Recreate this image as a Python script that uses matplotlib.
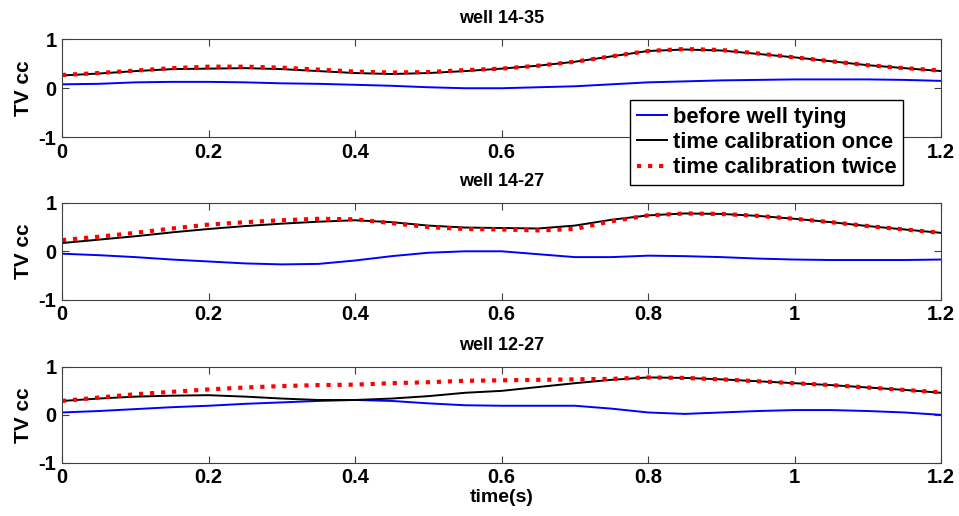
import matplotlib
matplotlib.use("Agg")
import matplotlib.pyplot as plt
import numpy as np

plt.rcParams['font.family'] = ['Liberation Sans', 'DejaVu Sans']
plt.rcParams['font.weight'] = 'bold'
plt.rcParams['axes.unicode_minus'] = False

# time axis (s)
t = [0.00, 0.05, 0.10, 0.15, 0.20, 0.25, 0.30, 0.35, 0.40, 0.45, 0.50, 0.55,
     0.60, 0.65, 0.70, 0.75, 0.80, 0.85, 0.90, 0.95, 1.00, 1.05, 1.10, 1.15, 1.20]
tick_labels = ['0', '0.2', '0.4', '0.6', '0.8', '1', '1.2']

wells = ["well 14-35", "well 14-27", "well 12-27"]

# well 14-35
before_1435 = [0.08, 0.09, 0.12, 0.13, 0.13, 0.12, 0.10, 0.09, 0.07, 0.05, 0.02, 0.00,
               0.00, 0.02, 0.04, 0.08, 0.12, 0.14, 0.16, 0.17, 0.18, 0.18, 0.18, 0.17, 0.15]
once_1435 = [0.26, 0.30, 0.35, 0.39, 0.40, 0.41, 0.39, 0.35, 0.31, 0.29, 0.31, 0.35,
             0.40, 0.46, 0.54, 0.65, 0.76, 0.79, 0.77, 0.70, 0.63, 0.55, 0.47, 0.41, 0.35]
twice_1435 = [0.27, 0.31, 0.36, 0.41, 0.44, 0.44, 0.42, 0.38, 0.34, 0.32, 0.33, 0.37,
              0.40, 0.46, 0.54, 0.65, 0.76, 0.80, 0.78, 0.71, 0.63, 0.55, 0.47, 0.41, 0.36]

# well 14-27
before_1427 = [-0.05, -0.08, -0.12, -0.17, -0.21, -0.25, -0.27, -0.26, -0.19, -0.10, -0.03, 0.00,
               0.00, -0.06, -0.12, -0.12, -0.09, -0.10, -0.12, -0.15, -0.17, -0.18, -0.18, -0.18, -0.17]
once_1427 = [0.17, 0.24, 0.31, 0.39, 0.46, 0.52, 0.57, 0.61, 0.64, 0.60, 0.53, 0.49,
             0.48, 0.47, 0.53, 0.65, 0.74, 0.78, 0.77, 0.73, 0.67, 0.60, 0.52, 0.45, 0.38]
twice_1427 = [0.23, 0.30, 0.38, 0.47, 0.55, 0.60, 0.64, 0.67, 0.66, 0.58, 0.50, 0.46,
              0.45, 0.43, 0.46, 0.62, 0.74, 0.78, 0.77, 0.73, 0.67, 0.60, 0.52, 0.45, 0.38]

# well 12-27
before_1227 = [0.05, 0.08, 0.12, 0.16, 0.19, 0.23, 0.26, 0.29, 0.31, 0.29, 0.24, 0.20,
               0.19, 0.19, 0.19, 0.13, 0.05, 0.02, 0.05, 0.08, 0.10, 0.10, 0.08, 0.05, 0.00]
once_1227 = [0.29, 0.34, 0.38, 0.40, 0.41, 0.38, 0.34, 0.31, 0.31, 0.34, 0.39, 0.46,
             0.50, 0.58, 0.66, 0.73, 0.78, 0.77, 0.74, 0.70, 0.66, 0.62, 0.57, 0.52, 0.46]
twice_1227 = [0.29, 0.36, 0.43, 0.48, 0.53, 0.57, 0.60, 0.62, 0.63, 0.66, 0.68, 0.71,
              0.72, 0.73, 0.74, 0.75, 0.78, 0.77, 0.74, 0.70, 0.66, 0.62, 0.57, 0.52, 0.47]

before = [before_1435, before_1427, before_1227]
once = [once_1435, once_1427, once_1227]
twice = [twice_1435, twice_1427, twice_1227]

fig = plt.figure(figsize=(9.59, 5.16), dpi=100)

# subplot boxes [left, bottom, width, height]
boxes = [[0.0647, 0.734, 0.9166, 0.190],
         [0.0647, 0.419, 0.9166, 0.188],
         [0.0647, 0.103, 0.9166, 0.186]]

axes = []
for i, box in enumerate(boxes):
    ax = fig.add_axes(box)
    ax.plot(t, before[i], color='blue', lw=1.4, label='before well tying')
    ax.plot(t, once[i], color='black', lw=1.4, label='time calibration once')
    ax.plot(t, twice[i], color='red', lw=3, ls=':', label='time calibration twice')
    ax.set_xlim(0, 1.2)
    ax.set_ylim(-1, 1)
    ax.set_xticks(np.arange(0, 1.21, 0.2))
    ax.set_xticklabels(tick_labels)
    ax.set_yticks([-1, 0, 1])
    ax.tick_params(direction='in', length=5, top=True, right=True,
                   labelsize=14.5, pad=4, color='#404040')
    for s in ax.spines.values():
        s.set_color('#404040')
    ax.set_title(wells[i], fontsize=13, fontweight='bold', pad=12)
    ax.set_ylabel('TV cc', fontsize=15, fontweight='bold', labelpad=4)
    axes.append(ax)

axes[2].set_xlabel('time(s)', fontsize=14, fontweight='bold', labelpad=1)

# the legend sits over the 0.8 and 1 labels of the top panel
axes[0].set_xticklabels(['0', '0.2', '0.4', '0.6', '', '', '1.2'])

axes[0].set_zorder(3)
leg = axes[0].legend(loc='upper left', bbox_to_anchor=(0.657, 0.806),
                     bbox_transform=fig.transFigure, fontsize=15.8, frameon=True,
                     framealpha=1, fancybox=False, handlelength=1.4,
                     handletextpad=0.25, borderpad=0.3, labelspacing=0.2,
                     borderaxespad=0)
leg.get_frame().set_edgecolor('black')
leg.get_frame().set_linewidth(1.0)

plt.savefig('out.png', dpi=100)
